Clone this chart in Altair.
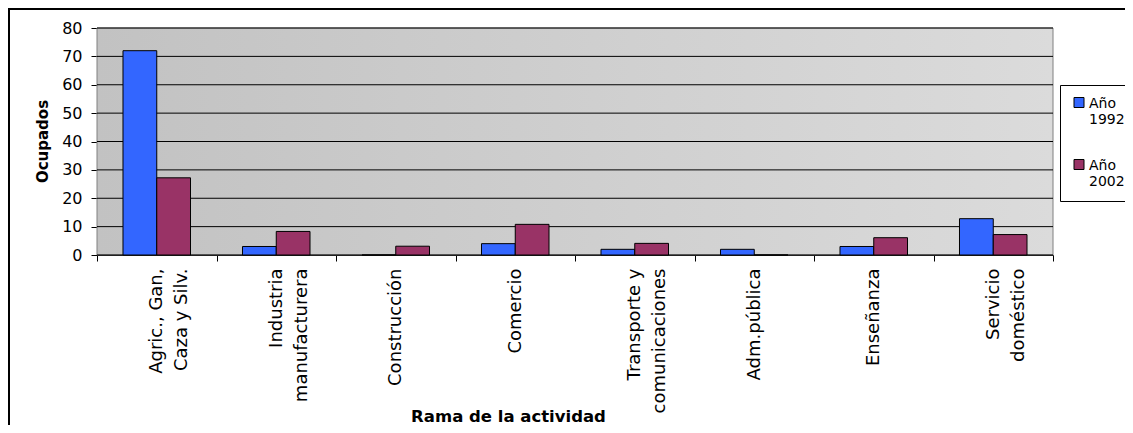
import altair as alt
import pandas as pd

# ---- data ----
categories = [
    "Agric., Gan,|Caza y Silv.",
    "Industria|manufacturera",
    "Construcción",
    "Comercio",
    "Transporte y|comunicaciones",
    "Adm.pública",
    "Enseñanza",
    "Servicio|doméstico",
]
years = ["1992", "2002"]
values_1992 = [72, 3, 0, 4, 2, 2, 3, 12.8]
values_2002 = [27.2, 8.3, 3.1, 10.8, 4.1, 0, 6.1, 7.2]
y_ticks = [0, 10, 20, 30, 40, 50, 60, 70, 80]
colors = ["#3366FF", "#993366"]

rows = []
for c, v1, v2 in zip(categories, values_1992, values_2002):
    rows.append({"rama": c, "year": years[0], "value": v1})
    rows.append({"rama": c, "year": years[1], "value": v2})
df = pd.DataFrame(rows)

W, H = 956, 227
FONT = "DejaVu Sans"

y_scale = alt.Scale(domain=[0, 80], nice=False)
y_axis = alt.Axis(
    title="Ocupados", values=y_ticks, grid=False, tickSize=6, tickColor="black",
    domainColor="black", labelColor="black", labelFontSize=16, labelPadding=9,
    titleFontSize=15, titleFontWeight="bold", titleColor="black", titleAngle=270,
    titleX=-55, titleY=113, titleAlign="center", titleBaseline="middle",
)

bg = alt.Chart(pd.DataFrame({"k": [0]})).mark_rect(
    color={"gradient": "linear", "x1": 0, "y1": 0, "x2": 1, "y2": 0,
           "stops": [{"offset": 0, "color": "#C2C2C2"}, {"offset": 1, "color": "#DBDBDB"}]},
    stroke="#808080", strokeWidth=1,
).encode(x=alt.value(0), x2=alt.value(W), y=alt.value(0), y2=alt.value(H))

grid = alt.Chart(pd.DataFrame({"value": y_ticks})).mark_rule(
    color="black", strokeWidth=1
).encode(
    y=alt.Y("value:Q", scale=y_scale, axis=y_axis),
    x=alt.value(0), x2=alt.value(W),
)

bars = alt.Chart(df).mark_bar(stroke="black", strokeWidth=1).encode(
    x=alt.X(
        "rama:N", sort=categories,
        scale=alt.Scale(paddingInner=0, paddingOuter=0),
        axis=alt.Axis(
            title="Rama de la actividad", labelExpr="split(datum.label, '|')",
            labelAngle=270, labelAlign="right", labelBaseline="middle",
            labelFontSize=18, labelLineHeight=25, labelPadding=7, labelLimit=400,
            labelColor="black", tickBand="extent", tickSize=6, tickColor="black",
            domainColor="black", grid=False,
            titleFontSize=16.5, titleFontWeight="bold", titleColor="black",
            titleX=411, titleY=166, titleAlign="center", titleBaseline="alphabetic",
        ),
    ),
    xOffset=alt.XOffset("year:N", scale=alt.Scale(paddingOuter=0.77, paddingInner=0)),
    y=alt.Y("value:Q", scale=y_scale, axis=y_axis),
    color=alt.Color(
        "year:N",
        scale=alt.Scale(domain=years, range=colors),
        legend=alt.Legend(
            title=None, orient="none", legendX=963, legendY=57,
            fillColor="white", strokeColor="black", padding=12,
            symbolType="M-1,-1.3H1V0.7H-1Z", symbolSize=100,
            symbolStrokeColor="black", symbolStrokeWidth=1,
            labelExpr="['Año', datum.label]", labelFontSize=14, labelOffset=3,
            labelColor="black", labelBaseline="middle", rowPadding=30,
        ),
    ),
)

frame = alt.Chart(pd.DataFrame({"k": [0]})).mark_rect(
    fillOpacity=0, stroke="black", strokeWidth=2
).encode(x=alt.value(-88), x2=alt.value(W + 300), y=alt.value(-19), y2=alt.value(H + 300))

chart = alt.layer(bg, grid, bars, frame).properties(
    width=W, height=H,
    autosize=alt.AutoSizeParams(type="none"),
    padding={"left": 89, "top": 20, "right": 72, "bottom": 170},
).configure(font=FONT).configure_view(strokeWidth=0)

chart.save("out.html", embed_options={"renderer": "svg", "actions": False})
